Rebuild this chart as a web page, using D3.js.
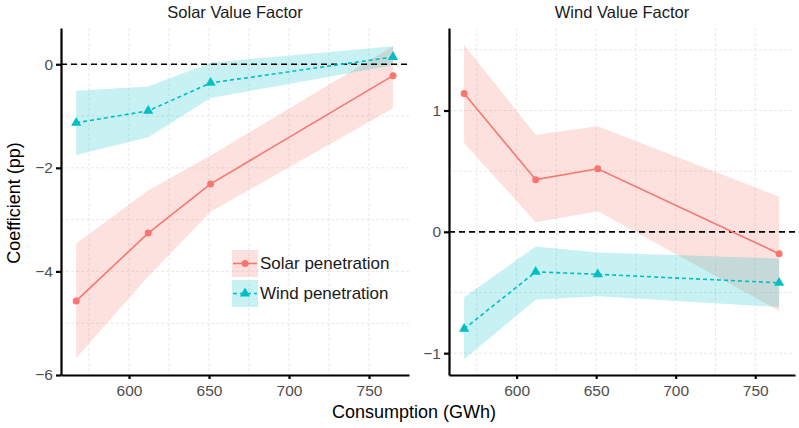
<!DOCTYPE html>
<html>
<head>
<meta charset="utf-8">
<script src="https://cdn.jsdelivr.net/npm/d3@7"></script>
<style>
  body { margin: 0; background: #fff; }
  svg { font-family: "Liberation Sans", Arial, sans-serif; }
  .grid line { stroke: #e3e3e3; stroke-width: 0.8; stroke-dasharray: 3,2; }
  .axis path, .axis line { stroke: #000; }
  .axis text { fill: #4d4d4d; font-size: 15.5px; }
</style>
</head>
<body>
<div class="chart"></div>
<script>
const width = 799;
const height = 428;

// consumption levels (GWh)
const consumption = [567, 612, 651, 765];
const xTicks = [600, 650, 700, 750];
const xMinor = [575, 625, 675, 725];

// Solar Value Factor panel
const solarVF_solar = [-4.57, -3.26, -2.31, -0.22];
const solarVF_solarLo = [-5.67, -4.10, -2.85, -0.85];
const solarVF_solarHi = [-3.46, -2.44, -1.76, 0.35];
const solarVF_wind = [-1.13, -0.90, -0.36, 0.14];
const solarVF_windLo = [-1.75, -1.41, -0.65, -0.02];
const solarVF_windHi = [-0.51, -0.43, 0.03, 0.35];
const solarTicks = [0, -2, -4, -6];
const solarMinor = [-1, -3, -5];

// Wind Value Factor panel
const windVF_solar = [1.14, 0.43, 0.52, -0.18];
const windVF_solarLo = [0.73, 0.08, 0.17, -0.65];
const windVF_solarHi = [1.54, 0.80, 0.87, 0.29];
const windVF_wind = [-0.80, -0.33, -0.35, -0.42];
const windVF_windLo = [-1.05, -0.56, -0.53, -0.62];
const windVF_windHi = [-0.54, -0.12, -0.17, -0.22];
const windTicks = [1, 0, -1];
const windMinor = [1.5, 0.5, -0.5];

const seriesNames = ["Solar penetration", "Wind penetration"];
const solarColor = "#F8766D";
const windColor = "#00BFC4";

const svg = d3
    .select(".chart")
    .append("svg")
    .attr("width", width)
    .attr("height", height);

const fmt = (d) => (d < 0 ? "\u2212" + Math.abs(d) : String(d));

function rows(mid, lo, hi) {
    return consumption.map((c, i) => ({ x: c, y: mid[i], lo: lo[i], hi: hi[i] }));
}

function drawPanel(p) {
    const x = d3.scaleLinear().domain([557.5, 775]).range([p.left, p.right]);
    const y = d3.scaleLinear().domain(p.yDomain).range([375, 28]);

    const g = svg.append("g");

    // grid
    const grid = g.append("g").attr("class", "grid");
    grid.selectAll(".vx")
        .data(xTicks.concat(xMinor))
        .enter()
        .append("line")
        .attr("x1", (d) => x(d))
        .attr("x2", (d) => x(d))
        .attr("y1", 28)
        .attr("y2", 375);
    grid.selectAll(".hy")
        .data(p.ticks.concat(p.minor))
        .enter()
        .append("line")
        .attr("x1", p.left)
        .attr("x2", p.right)
        .attr("y1", (d) => y(d))
        .attr("y2", (d) => y(d));

    const area = d3.area()
        .x((d) => x(d.x))
        .y0((d) => y(d.lo))
        .y1((d) => y(d.hi));
    const line = d3.line()
        .x((d) => x(d.x))
        .y((d) => y(d.y));

    const solar = rows(p.solar, p.solarLo, p.solarHi);
    const wind = rows(p.wind, p.windLo, p.windHi);

    g.append("path").datum(solar).attr("d", area)
        .attr("fill", solarColor).attr("fill-opacity", 0.22);
    g.append("path").datum(wind).attr("d", area)
        .attr("fill", windColor).attr("fill-opacity", 0.22);

    // zero reference line
    g.append("line")
        .attr("x1", p.left).attr("x2", p.right)
        .attr("y1", y(0)).attr("y2", y(0))
        .attr("stroke", "#000")
        .attr("stroke-width", 1.6)
        .attr("stroke-dasharray", "6,4");

    g.append("path").datum(solar).attr("d", line)
        .attr("fill", "none").attr("stroke", solarColor).attr("stroke-width", 1.6);
    g.append("path").datum(wind).attr("d", line)
        .attr("fill", "none").attr("stroke", windColor).attr("stroke-width", 1.6)
        .attr("stroke-dasharray", "4,3");

    g.selectAll(".sp")
        .data(solar)
        .enter()
        .append("circle")
        .attr("cx", (d) => x(d.x))
        .attr("cy", (d) => y(d.y))
        .attr("r", 3.5)
        .attr("fill", solarColor);
    const tri = d3.symbol().type(d3.symbolTriangle).size(45);
    g.selectAll(".wp")
        .data(wind)
        .enter()
        .append("path")
        .attr("d", tri)
        .attr("transform", (d) => `translate(${x(d.x)},${y(d.y)})`)
        .attr("fill", windColor);

    // axes
    g.append("g")
        .attr("class", "axis")
        .attr("transform", `translate(${p.left},0)`)
        .call(d3.axisLeft(y).tickValues(p.ticks).tickFormat(fmt).tickSize(5).tickSizeOuter(0).tickPadding(3))
        .call((a) => a.select(".domain").attr("stroke-width", 2.2))
        .call((a) => a.selectAll(".tick line").attr("stroke-width", 2.2));
    g.append("g")
        .attr("class", "axis")
        .attr("transform", "translate(0,375)")
        .call(d3.axisBottom(x).tickValues(xTicks).tickSize(4).tickSizeOuter(0).tickPadding(6))
        .call((a) => a.select(".domain").attr("stroke-width", 2.2))
        .call((a) => a.selectAll(".tick line").attr("stroke-width", 2.2));

    g.append("text")
        .text(p.title)
        .attr("x", p.titleX)
        .attr("y", 18)
        .attr("text-anchor", "middle")
        .attr("font-size", 16.5)
        .attr("fill", "#1a1a1a");
}

drawPanel({
    title: "Solar Value Factor", titleX: 235,
    left: 61, right: 409, yDomain: [-6, 0.7],
    ticks: solarTicks, minor: solarMinor,
    solar: solarVF_solar, solarLo: solarVF_solarLo, solarHi: solarVF_solarHi,
    wind: solarVF_wind, windLo: solarVF_windLo, windHi: solarVF_windHi,
});
drawPanel({
    title: "Wind Value Factor", titleX: 622,
    left: 449, right: 795, yDomain: [-1.18, 1.68],
    ticks: windTicks, minor: windMinor,
    solar: windVF_solar, solarLo: windVF_solarLo, solarHi: windVF_solarHi,
    wind: windVF_wind, windLo: windVF_windLo, windHi: windVF_windHi,
});

// legend
const legend = svg.append("g").attr("transform", "translate(232,250)");
[solarColor, windColor].forEach((c, i) => {
    const row = legend.append("g").attr("transform", `translate(0,${i * 30})`);
    row.append("rect").attr("width", 26).attr("height", 27)
        .attr("fill", c).attr("fill-opacity", 0.22);
    row.append("line").attr("x1", 1).attr("x2", 25).attr("y1", 13.5).attr("y2", 13.5)
        .attr("stroke", c).attr("stroke-width", 1.6)
        .attr("stroke-dasharray", i === 1 ? "4,3" : null);
    if (i === 0) {
        row.append("circle").attr("cx", 13).attr("cy", 13.5).attr("r", 3.5).attr("fill", c);
    } else {
        row.append("path").attr("d", d3.symbol().type(d3.symbolTriangle).size(45))
            .attr("transform", "translate(13,13.5)").attr("fill", c);
    }
    row.append("text").text(seriesNames[i])
        .attr("x", 28).attr("y", 19)
        .attr("font-size", 17).attr("fill", "#1a1a1a");
});

// axis titles
svg.append("text")
    .text("Consumption (GWh)")
    .attr("x", 414).attr("y", 418)
    .attr("text-anchor", "middle")
    .attr("font-size", 18).attr("fill", "#000");
svg.append("text")
    .text("Coefficient (pp)")
    .attr("transform", "translate(20,203) rotate(-90)")
    .attr("text-anchor", "middle")
    .attr("font-size", 18).attr("fill", "#000");
</script>
</body>
</html>
